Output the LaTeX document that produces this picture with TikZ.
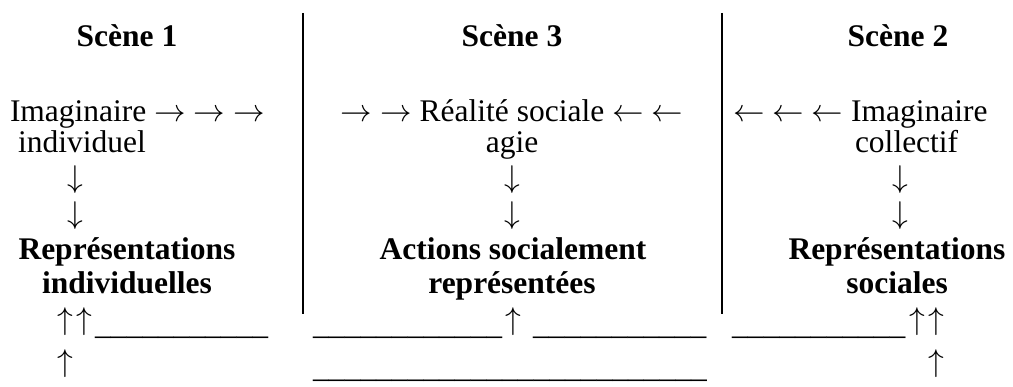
\RequirePackage{fix-cm}
\documentclass[tikz,border=0pt]{standalone}
\usepackage{fontspec}
\setmainfont{Liberation Serif}
\newcommand{\rar}{$\rightarrow$}
\newcommand{\lar}{$\leftarrow$}
\newcommand{\dar}{$\downarrow$}
\newcommand{\uar}{$\uparrow$}
\begin{document}
\begin{tikzpicture}[x=1pt,y=-1pt,
  txt/.style={inner sep=0pt, outer sep=0pt, font=\fontsize{31.5}{31.5}\selectfont},
  btxt/.style={txt, font=\fontsize{31.5}{31.5}\selectfont\bfseries},
  sep/.style={line width=2pt, black}]
\useasboundingbox (0,0) rectangle (1013,387);
% headers
\node[btxt, anchor=base] (s1) at (127,47) {Scène 1};
\node[btxt, anchor=base] (s3) at (512,47) {Scène 3};
\node[btxt, anchor=base] (s2) at (898,47) {Scène 2};
% row 2-3
\node[txt, anchor=base west] (im1) at (10,122) {Imaginaire \rar{} \rar{} \rar};
\node[txt, anchor=base west] (ind1) at (18,153) {individuel};
\node[txt, anchor=base] (real) at (512,122) {\rar{} \rar{} Réalité sociale \lar{} \lar};
\node[txt, anchor=base] (agie) at (512,153) {agie};
\node[txt, anchor=base west] (im2) at (733,122) {\lar{} \lar{} \lar{} Imaginaire};
\node[txt, anchor=base west] (coll) at (855,153) {collectif};
% down arrows
\node[txt] (d1a) at (75,180) {\dar};
\node[txt] (d1b) at (75,216) {\dar};
\node[txt] (d3a) at (512,180) {\dar};
\node[txt] (d3b) at (512,216) {\dar};
\node[txt] (d2a) at (900,180) {\dar};
\node[txt] (d2b) at (900,216) {\dar};
% bold results
\node[btxt, anchor=base] (r1a) at (127,260) {Représentations};
\node[btxt, anchor=base] (r1b) at (127,294) {individuelles};
\node[btxt, anchor=base] (r3a) at (513,260) {Actions socialement};
\node[btxt, anchor=base] (r3b) at (512,294) {représentées};
\node[btxt, anchor=base] (r2a) at (897,260) {Représentations};
\node[btxt, anchor=base] (r2b) at (897,294) {sociales};
% bottom
\node[txt] (u1) at (75,322) {\makebox[19pt]{\uar}\makebox[19pt]{\uar}};
\node[txt] (u1b) at (65,364) {\uar};
\node[txt, anchor=base west] (l1) at (95,335) {\_\_\_\_\_\_\_\_\_\_\_};
\node[txt, anchor=base west] (l2) at (313,335) {\_\_\_\_\_\_\_\_\_\_\_\_};
\node[txt] (u3) at (513,322) {\uar};
\node[txt, anchor=base west] (l3) at (533,335) {\_\_\_\_\_\_\_\_\_\_\_};
\node[txt, anchor=base west] (l4) at (732,335) {\_\_\_\_\_\_\_\_\_\_\_};
\node[txt] (u2) at (926.5,322) {\makebox[19pt]{\uar}\makebox[19pt]{\uar}};
\node[txt] (u2b) at (936,364) {\uar};
\node[txt, anchor=base west] (l5) at (313,378) {\_\_\_\_\_\_\_\_\_\_\_\_\_\_\_\_\_\_\_\_\_\_\_\_\_};
% separators
\coordinate (v1t) at (303,13); \coordinate (v1b) at (303,314);
\coordinate (v2t) at (722,13); \coordinate (v2b) at (722,314);
\draw[sep] (v1t) -- (v1b);
\draw[sep] (v2t) -- (v2b);
\end{tikzpicture}
\end{document}
